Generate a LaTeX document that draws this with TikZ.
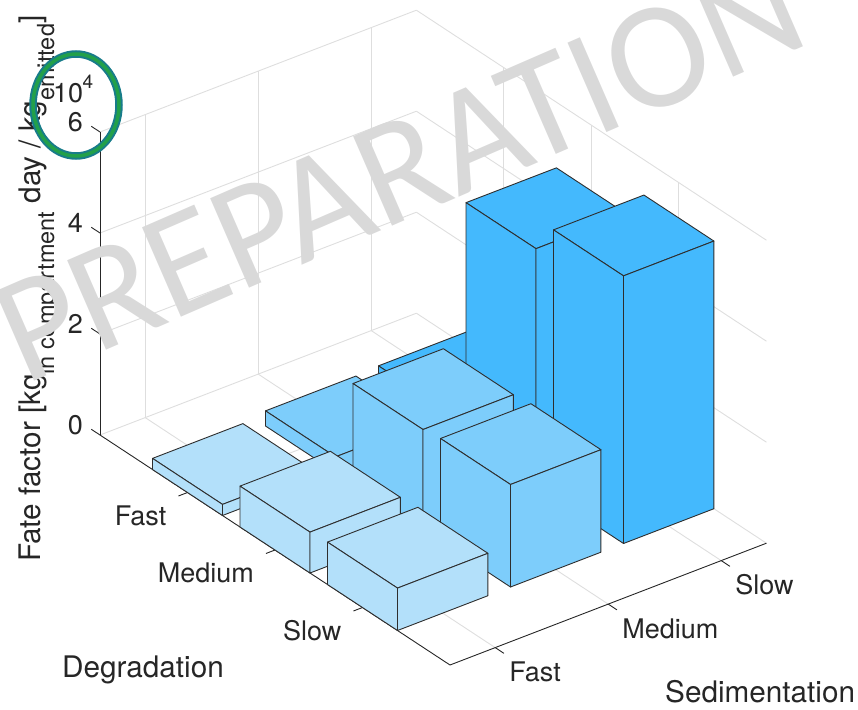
\documentclass[tikz,border=0pt]{standalone}
\usepackage{fontspec}
\setmainfont{TeX Gyre Heros}
\newfontfamily\wmfont{Carlito}
\definecolor{txt}{HTML}{262626}
\definecolor{gridc}{HTML}{DEDEDE}
\definecolor{edgec}{HTML}{2E2E2E}
\definecolor{barlight}{HTML}{B3E0FA}
\definecolor{barmid}{HTML}{7DCDFB}
\definecolor{bardark}{HTML}{44B9FD}
\definecolor{wmgray}{HTML}{D9D9D9}
\definecolor{ringteal}{HTML}{187C8A}
\definecolor{ringgreen}{HTML}{22A04A}

\tikzset{
  gridline/.style={draw=gridc, line width=0.9pt},
  axisline/.style={draw=txt, line width=0.9pt},
  face/.style={draw=edgec, line width=0.9pt, line join=round},
  ticklab/.style={text=txt, font=\fontsize{27}{32}\selectfont, inner sep=0pt},
  explab/.style={text=txt, font=\fontsize{19}{23}\selectfont, inner sep=0pt},
  axlab/.style={text=txt, font=\fontsize{29.7}{35}\selectfont, inner sep=0pt},
}

% one 3-D column: #1 = degradation index, #2 = sedimentation index,
% #3 = height (x 10^4), #4 = fill colour; only the three visible faces
\newcommand\barbox[4]{%
  \filldraw[face, fill=#4] ({#1-.4},{#2-.4},#3) -- ({#1+.4},{#2-.4},#3)
     -- ({#1+.4},{#2+.4},#3) -- ({#1-.4},{#2+.4},#3) -- cycle;
  \filldraw[face, fill=#4] ({#1-.4},{#2-.4},0) -- ({#1+.4},{#2-.4},0)
     -- ({#1+.4},{#2-.4},#3) -- ({#1-.4},{#2-.4},#3) -- cycle;
  \filldraw[face, fill=#4] ({#1+.4},{#2-.4},0) -- ({#1+.4},{#2+.4},0)
     -- ({#1+.4},{#2+.4},#3) -- ({#1+.4},{#2-.4},#3) -- cycle;
}

\begin{document}
\begin{tikzpicture}
\useasboundingbox (0,0) rectangle (858pt,-709pt);
\clip (0,0) rectangle (858pt,-709pt);

% ---- 3-D axes: x = degradation, y = sedimentation, z = fate factor
\begin{scope}[shift={(32.2pt,-461.1pt)},
              x={(87.5pt,-57.5pt)}, y={(113pt,43.5pt)}, z={(0pt,50.5pt)}]

  % back walls and floor grid
  \foreach \v in {0,2,4,6} {
    \draw[gridline] (0,0.6,\v) -- (0,3.4,\v);
    \draw[gridline] (0,3.4,\v) -- (4,3.4,\v);
  }
  \foreach \v in {1,2,3} {
    \draw[gridline] (0,\v,0) -- (0,\v,6);
    \draw[gridline] (\v,3.4,0) -- (\v,3.4,6);
    \draw[gridline] (\v,0.6,0) -- (\v,3.4,0);
    \draw[gridline] (0,\v,0) -- (4,\v,0);
  }

  % axis lines
  \draw[axisline] (0,0.6,0) -- (0,0.6,6);
  \draw[axisline] (0,0.6,0) -- (4,0.6,0);
  \draw[axisline] (4,0.6,0) -- (4,3.4,0);

  % ticks and tick labels
  \foreach \v in {0,2,4,6} {
    \draw[axisline] (0,0.6,\v) -- (-0.1,0.6,\v);
    \node[ticklab, anchor=base east] (zl\v) at ([xshift=-17pt,yshift=0.5pt]0,0.6,\v) {\v};
  }
  \foreach \v/\t in {1/Fast,2/Medium,3/Slow} {
    \draw[axisline] (\v,0.6,0) -- (\v,0.52,0);
    \node[ticklab, anchor=base east] (dl\v) at ([xshift=-21pt,yshift=-32.5pt]\v,0.6,0) {\t};
    \draw[axisline] (4,\v,0) -- (4.1,\v,0);
    \node[ticklab, anchor=base west] (sl\v) at ([xshift=14pt,yshift=-34.2pt]4,\v,0) {\t};
  }

  % columns, drawn from the back to the front
  \barbox{1}{3}{0.33}{bardark}
  \barbox{1}{2}{0.30}{barmid}
  \barbox{2}{3}{4.70}{bardark}
  \barbox{1}{1}{0.22}{barlight}
  \barbox{2}{2}{1.98}{barmid}
  \barbox{3}{3}{5.30}{bardark}
  \barbox{2}{1}{0.81}{barlight}
  \barbox{3}{2}{2.03}{barmid}
  \barbox{3}{1}{0.84}{barlight}
\end{scope}

% exponent of the vertical axis
\node[ticklab, anchor=base west] (zexpb) at (53pt,-102pt) {10};
\node[explab, anchor=base west] (zexpe) at (82.5pt,-88pt) {4};

% axis titles
\node[axlab, anchor=base west] (dtitle) at (62pt,-677pt) {Degradation};
\node[axlab, anchor=base west] (stitle) at (665pt,-702pt) {Sedimentation};
\node[axlab, rotate=90, anchor=base west] (ztitle) at (40pt,-562pt)
  {Fate factor [kg\raisebox{-14pt}{\fontsize{23.5}{28}\selectfont in compartment} day / kg\raisebox{-14pt}{\fontsize{23.5}{28}\selectfont emitted}]};

% watermark
\node[rotate=23.5, anchor=base west, inner sep=0pt, text=wmgray,
      font=\wmfont\fontsize{152}{152}\selectfont] (wm) at (24pt,-386pt) {PREPARATION};

% highlight ring around the exponent
\draw[ringteal, line width=7.5pt] (76pt,-105pt) ellipse [x radius=43pt, y radius=51pt];
\draw[ringgreen, line width=3.5pt] (76pt,-105pt) ellipse [x radius=43pt, y radius=51pt];
\end{tikzpicture}
\end{document}
